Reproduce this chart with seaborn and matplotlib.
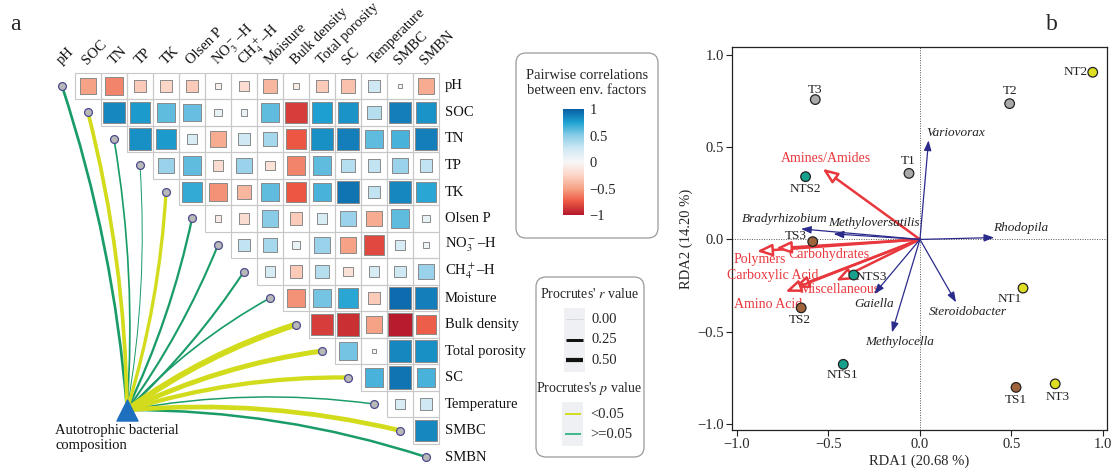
import numpy as np
import pandas as pd
import matplotlib
matplotlib.use("Agg")
import matplotlib.pyplot as plt
import seaborn as sns
from matplotlib.path import Path
from matplotlib.patches import PathPatch, FancyBboxPatch, Rectangle
from matplotlib.cm import ScalarMappable
from matplotlib.colors import Normalize

sns.set_theme(style="white")
plt.rcParams['font.family'] = ['Liberation Serif', 'DejaVu Serif']
plt.rcParams['mathtext.fontset'] = 'stix'
plt.rcParams['axes.unicode_minus'] = True

# ------------------------- panel a data -------------------------
env_vars = ["pH", "SOC", "TN", "TP", "TK", "Olsen P", r"NO$_3^-$–H", r"CH$_4^+$–H",
            "Moisture", "Bulk density", "Total porosity", "SC", "Temperature", "SMBC", "SMBN"]
corr_pH = [-0.50, -0.60, -0.30, -0.25, -0.30, -0.05, -0.20, -0.40, -0.08, -0.30, -0.35, 0.25, 0.02, -0.45]
corr_SOC = [0.85, 0.78, 0.60, 0.58, 0.10, 0.08, 0.60, -0.85, 0.75, 0.80, 0.35, 0.88, 0.80]
corr_TN = [0.82, 0.78, 0.20, -0.45, 0.25, 0.40, -0.75, 0.82, 0.88, 0.60, 0.65, 0.88]
corr_TP = [0.45, 0.60, -0.20, 0.45, -0.15, -0.60, 0.60, 0.35, 0.30, 0.45, 0.30]
corr_TK = [0.70, -0.55, -0.40, 0.60, -0.75, 0.65, 0.92, 0.30, 0.85, 0.72]
corr_OlsenP = [-0.08, -0.20, 0.50, -0.30, 0.20, 0.45, -0.45, 0.60, 0.10]
corr_NO3 = [0.30, 0.40, 0.10, 0.45, -0.50, -0.80, 0.20, 0.05]
corr_CH4 = [0.20, -0.30, 0.35, -0.15, 0.20, 0.25, 0.45]
corr_Moisture = [-0.55, 0.55, 0.72, -0.30, 0.95, 0.88]
corr_Bulk = [-0.85, -0.90, -0.50, -0.98, -0.72]
corr_TotalPor = [0.55, 0.04, 0.85, 0.82]
corr_SC = [0.65, 0.92, 0.65]
corr_Temp = [0.20, 0.25]
corr_SMBC = [0.85]
corr_rows = [corr_pH, corr_SOC, corr_TN, corr_TP, corr_TK, corr_OlsenP, corr_NO3, corr_CH4,
             corr_Moisture, corr_Bulk, corr_TotalPor, corr_SC, corr_Temp, corr_SMBC]

procrustes_r = [0.22, 0.32, 0.12, 0.05, 0.28, 0.18, 0.16, 0.16, 0.12, 0.55, 0.45, 0.38, 0.10, 0.42, 0.20]
procrustes_sig = [False, True, False, False, True, False, False, False, False, True, True, True, False, True, False]

# ------------------------- panel b data -------------------------
samples = ["T1", "T2", "T3", "NT1", "NT2", "NT3", "TS1", "TS2", "TS3", "NTS1", "NTS2", "NTS3"]
groups = ["T", "T", "T", "NT", "NT", "NT", "TS", "TS", "TS", "NTS", "NTS", "NTS"]
rda1 = [-0.060, 0.490, -0.572, 0.563, 0.944, 0.739, 0.525, -0.649, -0.586, -0.419, -0.625, -0.362]
rda2 = [0.358, 0.736, 0.758, -0.264, 0.906, -0.783, -0.802, -0.371, -0.012, -0.677, 0.340, -0.193]
carbon = ["Amines/Amides", "Polymers", "Carbohydrates", "Carboxylic Acid", "Amino Acid", "Miscellaneous"]
carbon_x = [-0.532, -0.891, -0.787, -0.690, -0.735, -0.459]
carbon_y = [0.383, -0.064, -0.048, -0.262, -0.284, -0.224]
genera = ["Variovorax", "Rhodopila", "Bradyrhizobium", "Methyloversatilis", "Gaiella", "Methylocella", "Steroidobacter"]
genus_x = [0.047, 0.406, -0.650, -0.472, -0.250, -0.153, 0.197]
genus_y = [0.537, 0.010, 0.057, 0.030, -0.296, -0.504, -0.341]

# label placement (style)
sample_lab = {"T1": (-0.067, 0.423), "T2": (0.490, 0.803), "T3": (-0.572, 0.812),
              "NT1": (0.492, -0.325), "NT2": (0.852, 0.906), "NT3": (0.752, -0.856),
              "TS1": (0.525, -0.872), "TS2": (-0.654, -0.436), "TS3": (-0.678, 0.017),
              "NTS1": (-0.426, -0.735), "NTS2": (-0.628, 0.274), "NTS3": (-0.268, -0.206)}
carbon_lab = [(-0.514, 0.4375), (-0.873, -0.111), (-0.495, -0.084), (-0.805, -0.193),
              (-0.832, -0.351), (-0.441, -0.274)]
genus_lab = [(0.197, 0.577), (0.552, 0.061), (-0.738, 0.111), (-0.253, 0.088),
             (-0.250, -0.351), (-0.113, -0.555), (0.261, -0.396)]

# ------------------------- figure -------------------------
W, H = 1119, 473
fig = plt.figure(figsize=(W / 100, H / 100), dpi=100)
fig.patch.set_facecolor("white")

cmap = sns.blend_palette(["#b2182b", "#ec5744", "#f6a285", "#fcd5c6", "#f7f7f7",
                          "#d0e9f4", "#8ccde8", "#1ea2d2", "#0a5ea4"], as_cmap=True)

# panel a axes in cell units
x0, cw = 62.0, 26.0
y0, ch = 86.0, 26.5
axA = fig.add_axes([0, 0, 500 / W, 1])

def to_data(px, py):
    return (px - x0) / cw, (py - y0) / ch

n = len(env_vars)
recs = []
for i, row in enumerate(corr_rows):
    for k, r in enumerate(row):
        j = i + 1 + k
        recs.append({"col": j, "row": i, "r": r, "absr": abs(r)})
df = pd.DataFrame(recs)

for i in range(n):
    for j in range(i + 1, n):
        axA.add_patch(Rectangle((j - 0.5, i - 0.5), 1, 1, fill=False, ec="#c8c8c8", lw=0.8, zorder=1))

sns.scatterplot(data=df, x="col", y="row", hue="r", size="absr", palette=cmap, hue_norm=(-1, 1),
                sizes=(0, 280), size_norm=(0, 1), marker="s", edgecolor="#8a8a8a", linewidth=0.7,
                legend=False, ax=axA, zorder=3)

# procrustes links
tri_px = (127.0, 410.0)
col_sig, col_ns = "#d2dc1c", "#1a9c68"
order = np.argsort(procrustes_r)
for i in order:
    p0 = np.array(tri_px)
    p2 = np.array([x0 + cw * i, y0 + ch * i])
    d = p2 - p0
    if i <= 7:
        perp = np.array([-d[1], d[0]])
        rad = 0.06
    else:
        perp = np.array([d[1], -d[0]])
        rad = 0.08
    c = (p0 + p2) / 2 + rad * perp
    pts = [to_data(*p0), to_data(*c), to_data(*p2)]
    lw = (0.5 + 10 * procrustes_r[i]) * 0.72
    col = col_sig if procrustes_sig[i] else col_ns
    axA.add_patch(PathPatch(Path(pts, [Path.MOVETO, Path.CURVE3, Path.CURVE3]), fill=False,
                            ec=col, lw=lw, capstyle="butt", zorder=2))

diag = list(range(n))
axA.scatter(diag, diag, s=32, c="#b8b8b8", edgecolors="#4b4b8f", linewidths=0.9, zorder=4)
tx, ty = to_data(*tri_px)
axA.scatter([tx], [ty], marker="^", s=230, c="#1f6fbf", edgecolors="#1f6fbf", zorder=5)

for i, lab in enumerate(env_vars):
    axA.text((445 - x0) / cw, i, lab, ha="left", va="center", fontsize=10.5, color="#111111")
    axA.text(i - 0.02, -0.78, lab, ha="left", va="baseline", rotation=45, rotation_mode="anchor",
             fontsize=10.5, color="#111111")

axA.text(*to_data(55, 424), "Autotrophic bacterial\ncomposition", ha="left", va="top",
         fontsize=10.5, linespacing=1.15, color="#111111")

axA.set_xlim((0 - x0) / cw, (500 - x0) / cw)
axA.set_ylim((H - y0) / ch, (0 - y0) / ch)
axA.axis("off")

# overlay axes in pixel coordinates for legend boxes and panel letters
axO = fig.add_axes([0, 0, 1, 1])
axO.set_xlim(0, W)
axO.set_ylim(H, 0)
axO.axis("off")
axO.text(10, 24, "a", fontsize=17, ha="left", va="center")
axO.text(1046, 24, "b", fontsize=17, ha="left", va="center")

axO.add_patch(FancyBboxPatch((516, 53), 142, 185, boxstyle="round,pad=0,rounding_size=10",
                             fc="white", ec="#9a9a9a", lw=0.9))
axO.text(587, 83, "Pairwise correlations\nbetween env. factors", ha="center", va="center",
         fontsize=10.5, linespacing=1.25)

axO.add_patch(FancyBboxPatch((536, 277), 108, 180, boxstyle="round,pad=0,rounding_size=10",
                             fc="white", ec="#9a9a9a", lw=0.9))
axO.text(589, 294, r"Procrutes' $\it{r}$ value", ha="center", va="center", fontsize=10)
axO.add_patch(Rectangle((564, 308), 21, 64, fc="#eef0f3", ec="none"))
for yy, val, lw_px, lc in [(319, "0.00", 1.0, "#d8d8d8"), (339.5, "0.25", 3.0, "#111111"),
                           (360, "0.50", 4.2, "#111111")]:
    axO.plot([566, 583], [yy, yy], color=lc, lw=lw_px * 0.72, solid_capstyle="butt")
    axO.text(591, yy, val, ha="left", va="center", fontsize=10.5)
axO.text(589, 388, r"Procrutes's $\it{p}$ value", ha="center", va="center", fontsize=10)
axO.add_patch(Rectangle((562, 402), 21, 44, fc="#eef0f3", ec="none"))
for yy, val, lc in [(414, "<0.05", col_sig), (434, ">=0.05", "#3cb88a")]:
    axO.plot([565, 581], [yy, yy], color=lc, lw=1.4, solid_capstyle="butt")
    axO.text(590, yy, val, ha="left", va="center", fontsize=10.5)

cax = fig.add_axes([563 / W, (H - 215) / H, 21 / W, 106 / H])
cb = fig.colorbar(ScalarMappable(norm=Normalize(-1, 1), cmap=cmap), cax=cax)
cb.outline.set_visible(False)
cb.set_ticks([1, 0.5, 0, -0.5, -1])
cb.set_ticklabels(["1", "0.5", "0", "\u22120.5", "\u22121"])
cax.tick_params(axis="y", length=4, width=0.6, color="white", direction="in", pad=4, labelsize=10.5)

# ------------------------- panel b -------------------------
axB = fig.add_axes([732 / W, (H - 430) / H, (1107 - 732) / W, (430 - 47) / H])
axB.axhline(0, color="#555555", lw=0.7, ls=(0, (1, 1.5)), zorder=1)
axB.axvline(0, color="#555555", lw=0.7, ls=(0, (1, 1.5)), zorder=1)

red = "#e8383d"
for cx, cy in zip(carbon_x, carbon_y):
    axB.annotate("", xy=(cx, cy), xytext=(0, 0),
                 arrowprops=dict(arrowstyle="-|>,head_length=0.75,head_width=0.3", lw=1.8,
                                 ec=red, fc="white", shrinkA=0, shrinkB=0, mutation_scale=12),
                 zorder=3)
for name, (lx, ly) in zip(carbon, carbon_lab):
    axB.text(lx, ly, name, color=red, ha="center", va="center", fontsize=10)

navy = "#2b2b8c"
for gx, gy in zip(genus_x, genus_y):
    axB.annotate("", xy=(gx, gy), xytext=(0, 0),
                 arrowprops=dict(arrowstyle="-|>,head_length=0.6,head_width=0.22", lw=0.9,
                                 color=navy, shrinkA=0, shrinkB=0, mutation_scale=10),
                 zorder=3)
for name, (lx, ly) in zip(genera, genus_lab):
    axB.text(lx, ly, name, color="#222222", style="italic", ha="center", va="center", fontsize=9.5)

group_colors = {"T": "#a9a9a9", "NT": "#dede22", "TS": "#a0643c", "NTS": "#17a08c"}
sns.scatterplot(x=rda1, y=rda2, hue=groups, palette=group_colors, s=48, edgecolor="#222222",
                linewidth=0.9, legend=False, ax=axB, zorder=5)
for s in samples:
    lx, ly = sample_lab[s]
    axB.text(lx, ly, s, ha="center", va="center", fontsize=9.5, color="#222222")

axB.set_xlim(-1.027, 1.022)
axB.set_ylim(-1.033, 1.043)
axB.set_xticks([-1.0, -0.5, 0.0, 0.5, 1.0])
axB.set_yticks([-1.0, -0.5, 0.0, 0.5, 1.0])
axB.tick_params(direction="out", length=4, width=0.8, labelsize=10.5, color="#222222",
                bottom=True, left=True, pad=2)
for sp in axB.spines.values():
    sp.set_visible(True)
    sp.set_color("#222222")
    sp.set_linewidth(0.9)
axB.set_xlabel("RDA1 (20.68 %)", fontsize=10.5, labelpad=2)
axB.set_ylabel("RDA2 (14.20 %)", fontsize=10.5, labelpad=3)

fig.savefig("out.png", dpi=100, facecolor="white")
